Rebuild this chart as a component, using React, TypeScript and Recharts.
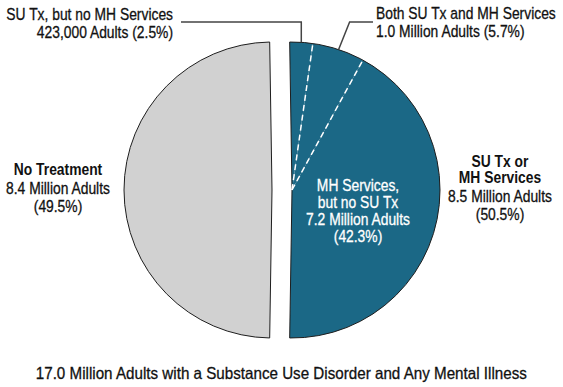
import { PieChart, Pie, Cell } from "recharts";

// top-level split: treated vs untreated
const groupNames = ["SU Tx or MH Services", "No Treatment"];
const groupTitleLines = [["SU Tx or", "MH Services"], ["No Treatment"]];
const groupShares = [50.5, 49.5];
const groupAdults = ["8.5 Million Adults", "8.4 Million Adults"];

// breakdown of the treated half (clockwise from 12 o'clock)
const txNames = ["SU Tx, but no MH Services", "Both SU Tx and MH Services", "MH Services, but no SU Tx"];
const txTitleLines = [["SU Tx, but no MH Services"], ["Both SU Tx and MH Services"], ["MH Services,", "but no SU Tx"]];
const txShares = [2.5, 5.7, 42.3];
const txAdults = ["423,000 Adults", "1.0 Million Adults", "7.2 Million Adults"];

const chartTitle = "17.0 Million Adults with a Substance Use Disorder and Any Mental Illness";

const W = 563;
const H = 387;
const CX = 282;
const CY = 190;
const R = 148;
const EXPLODE = 10;
const TEAL = "#1b6886";
const GRAY = "#d1d1d1";
const OUTLINE = "#1e1e1e";
const FONT = '"Liberation Sans", Arial, sans-serif';
const FS = 16.5;
const NARROW = 0.84; // squeeze to mimic a condensed face
const RADIAN = Math.PI / 180;

const txDeg = (groupShares[0] / 100) * 360;
const txStart = 90 + (txDeg - 180) / 2;
const txEnd = txStart - txDeg;
const grayEnd = txEnd - (groupShares[1] / 100) * 360;

const txData = txNames.map((name, i) => ({ name, value: txShares[i] }));

const polar = (cx: number, cy: number, r: number, angle: number) => [
  cx + r * Math.cos(-angle * RADIAN),
  cy + r * Math.sin(-angle * RADIAN),
];

function Txt({ x, y, anchor, bold, color, children }: any) {
  const c = color || "#111";
  return (
    <text
      transform={`translate(${x},${y}) scale(${NARROW},1)`}
      textAnchor={anchor}
      fontFamily={FONT}
      fontSize={FS}
      fontWeight={bold ? "bold" : "normal"}
      fill={c}
      stroke={bold ? "none" : c}
      strokeWidth={0.3}
    >
      {children}
    </text>
  );
}

const renderTxLabel = (p: any) => {
  const { cx, cy, outerRadius, startAngle, midAngle, index } = p;
  const [ax, ay] = polar(cx, cy, outerRadius, midAngle);
  const pct = `(${txShares[index]}%)`;
  const [sx, sy] = polar(cx, cy, outerRadius, startAngle);
  const sep =
    index > 0 ? (
      <line x1={cx} y1={cy} x2={sx} y2={sy} stroke="#fff" strokeWidth={1.5} strokeDasharray="6 4" />
    ) : null;

  if (index === 0) {
    return (
      <g>
        {sep}
        <path d={`M${ax},${ay} V22 H181`} stroke="#444" strokeWidth={1.5} fill="none" />
        <Txt x={173} y={20} anchor="end">{txTitleLines[0][0]}</Txt>
        <Txt x={173} y={38} anchor="end">{`${txAdults[0]} ${pct}`}</Txt>
      </g>
    );
  }
  if (index === 1) {
    return (
      <g>
        {sep}
        <path d={`M${ax},${ay} L${ax + 11},22 H373`} stroke="#444" strokeWidth={1.5} fill="none" />
        <Txt x={376} y={19} anchor="start">{txTitleLines[1][0]}</Txt>
        <Txt x={376} y={37} anchor="start">{`${txAdults[1]} ${pct}`}</Txt>
      </g>
    );
  }
  const lines = [...txTitleLines[2], txAdults[2], pct];
  return (
    <g>
      {sep}
      {lines.map((l, k) => (
        <Txt key={k} color="#fff" x={cx + 66} y={cy + 1 + k * 17} anchor="middle">
          {l}
        </Txt>
      ))}
    </g>
  );
};

const renderGroupLabel = (gi: number, x: number, y0: number) => () => {
  const bold = groupTitleLines[gi];
  const base = y0 + (bold.length - 1) * 16.5;
  return (
    <g>
      {bold.map((l, k) => (
        <Txt key={k} bold x={x} y={y0 + k * 16.5} anchor="middle">
          {l}
        </Txt>
      ))}
      <Txt x={x} y={base + 19} anchor="middle">{groupAdults[gi]}</Txt>
      <Txt x={x} y={base + 37} anchor="middle">{`(${groupShares[gi]}%)`}</Txt>
    </g>
  );
};

export default function App() {
  return (
    <div style={{ position: "absolute", left: 0, top: 0, width: W, height: H, background: "#fff" }}>
      <PieChart width={W} height={H} margin={{ top: 0, right: 0, bottom: 0, left: 0 }}>
        {/* untreated half, pulled left */}
        <Pie
          data={[{ name: groupNames[1], value: groupShares[1] }]}
          dataKey="value"
          nameKey="name"
          cx={CX - EXPLODE}
          cy={CY}
          outerRadius={R}
          startAngle={txEnd}
          endAngle={grayEnd}
          fill={GRAY}
          stroke={OUTLINE}
          strokeWidth={1}
          label={renderGroupLabel(1, 58, 175)}
          labelLine={false}
          isAnimationActive={false}
        />
        {/* treated half, broken down */}
        <Pie
          data={txData}
          dataKey="value"
          nameKey="name"
          cx={CX + EXPLODE}
          cy={CY}
          outerRadius={R}
          startAngle={txStart}
          endAngle={txEnd}
          stroke="none"
          label={renderTxLabel}
          labelLine={false}
          isAnimationActive={false}
        >
          {txData.map((d) => (
            <Cell key={d.name} fill={TEAL} />
          ))}
        </Pie>
        {/* outline of treated half */}
        <Pie
          data={[{ name: groupNames[0], value: groupShares[0] }]}
          dataKey="value"
          nameKey="name"
          cx={CX + EXPLODE}
          cy={CY}
          outerRadius={R}
          startAngle={txStart}
          endAngle={txEnd}
          fill="none"
          stroke={OUTLINE}
          strokeWidth={1}
          label={renderGroupLabel(0, 500, 166.5)}
          labelLine={false}
          isAnimationActive={false}
        />
      </PieChart>
      <div
        style={{
          position: "absolute",
          left: 0,
          top: 365,
          width: W,
          textAlign: "center",
          fontFamily: FONT,
          fontSize: FS,
          lineHeight: `${FS}px`,
          color: "#111",
          WebkitTextStroke: "0.3px #111",
          whiteSpace: "nowrap",
          transform: "scaleX(0.92)",
          transformOrigin: "279px 0",
        }}
      >
        {chartTitle}
      </div>
    </div>
  );
}
